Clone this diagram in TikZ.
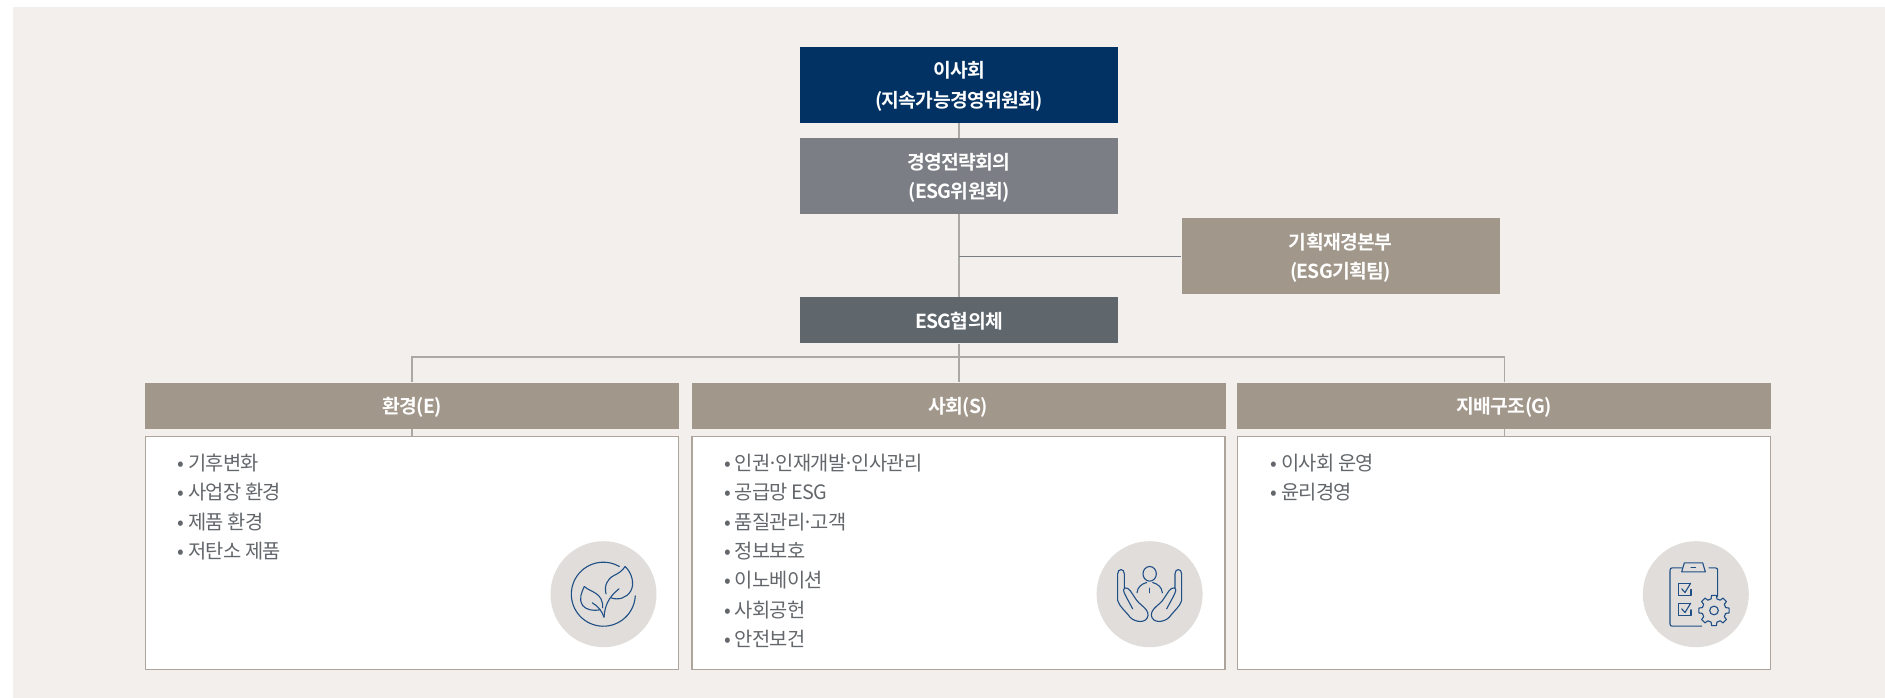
\documentclass[tikz,border=0pt]{standalone}
\usepackage{fontspec}
\setmainfont{Noto Sans CJK KR}[LetterSpace=-3.5,BoldFont={* Bold}]
\newcommand{\mdot}{\kern-.15em·\kern-.15em}
\definecolor{pagebg}{HTML}{F2EFEC}
\definecolor{navybox}{HTML}{013263}
\definecolor{midgray}{HTML}{7B7F85}
\definecolor{taupe}{HTML}{A2978B}
\definecolor{darkgray}{HTML}{5F666C}
\definecolor{bodyline}{HTML}{ADA59B}
\definecolor{circlefill}{HTML}{E0DDDA}
\definecolor{iconblue}{HTML}{1F4F85}
\definecolor{linkgray}{HTML}{ABA9A6}
\definecolor{listgray}{HTML}{63676B}
\tikzset{
  x=1pt,y=-1pt,
  orgbox/.style={rectangle,inner sep=0pt,minimum width=318pt,minimum height=76pt,text=white,
    font=\fontsize{19.3}{29.5}\selectfont\bfseries,align=center,text height=45pt,text depth=0pt},
  singlebox/.style={text height=15.6pt,text depth=0pt},
  headbox/.style={rectangle,inner sep=0pt,minimum width=534pt,minimum height=46pt,fill=taupe,text=white,
    font=\fontsize{19.3}{29.5}\selectfont\bfseries,singlebox},
  bodybox/.style={rectangle,inner sep=0pt,minimum width=533pt,minimum height=233.5pt,fill=white,draw=bodyline,line width=1.1pt},
  listtext/.style={inner sep=0pt,anchor=north west,align=left,text=listgray,
    font=\fontsize{19.8}{29.3}\selectfont},
  badge/.style={circle,inner sep=0pt,minimum size=106pt,fill=circlefill},
  link/.style={draw=linkgray,line width=1.2pt},
  iconline/.style={draw=iconblue,line width=1.1pt,line join=round,line cap=round},
  iconzoom/.style={x=0.33333pt,y=-0.33333pt},
}
\begin{document}
\begin{tikzpicture}
\useasboundingbox (0,0) rectangle (1885,698);
\fill[white] (0,0) rectangle (1885,698);
\fill[pagebg] (13,7) rectangle (1885,698);

\node[orgbox,fill=navybox] (board) at (959,85) {이사회\\(지속가능경영위원회)};
\node[orgbox,fill=midgray] (strategy) at (959,176) {경영전략회의\\(ESG위원회)};
\node[orgbox,fill=taupe] (finance) at (1340.5,256) {기획재경본부\\(ESG기획팀)};
\node[orgbox,fill=darkgray,minimum height=46pt,singlebox] (council) at (959,320.3) {ESG협의체};

\node[headbox] (headE) at (412,405.5) {환경(E)};
\node[headbox] (headS) at (958.5,405.5) {사회(S)};
\node[headbox] (headG) at (1504.4,405.5) {지배구조(G)};

\coordinate (bus) at (959,357);
\draw[link] (headE.north) -- (headE.north |- bus) -- (headG.north |- bus) -- (headG.north);
\draw[link] (board.south) -- (strategy.north);
\draw[link] (strategy.south) -- (council.north);
\draw[link] (council.south) -- (council.south |- headS.north);
\draw[draw=midgray,line width=1pt] (strategy.south |- finance.west) -- (finance.west);

\draw[link] (headE.south) -- ++(0,8);
\draw[link] (headG.south) -- ++(0,8);

\node[bodybox] (bodyE) at (412,553) {};
\node[bodybox] (bodyS) at (958.5,553) {};
\node[bodybox] (bodyG) at (1504.4,553) {};

\node[listtext] (listE) at (177.5,454) {• 기후변화\\• 사업장 환경\\• 제품 환경\\• 저탄소 제품};
\node[listtext] (listS) at (724,454) {• 인권\mdot 인재개발\mdot 인사관리\\• 공급망 ESG\\• 품질관리\mdot 고객\\• 정보보호\\• 이노베이션\\• 사회공헌\\• 안전보건};
\node[listtext] (listG) at (1270.5,454) {• 이사회 운영\\• 윤리경영};

\node[badge] (badgeE) at (603.5,594.2) {};
\node[badge] (badgeS) at (1149.6,594.2) {};
\node[badge] (badgeG) at (1695.8,594.2) {};

% leaf icon
\begin{scope}[shift={(530,520.5)},iconzoom]
  \draw[iconline] (268,138) arc[start angle=-60,end angle=-357,radius=96];
  \draw[iconline] (228,220) .. controls (222,195) and (232,175) .. (252,165) .. controls (268,157) and (278,150) .. (285,138)
     .. controls (305,155) and (315,190) .. (302,212) .. controls (290,232) and (265,240) .. (243,232);
  \draw[iconline] (222,290) .. controls (224,262) and (232,232) .. (267,205);
  \draw[iconline] (163,198) .. controls (155,215) and (145,235) .. (158,255) .. controls (168,268) and (190,272) .. (210,268);
  \draw[iconline] (163,198) .. controls (180,215) and (220,215) .. (218,262);
  \draw[iconline] (222,290) .. controls (215,270) and (205,258) .. (187,247);
\end{scope}

% hands icon
\begin{scope}[shift={(1080,520.5)},iconzoom]
  \draw[iconline] (209,160) ellipse[x radius=20,y radius=22];
  \draw[iconline] (171,217) .. controls (172,200) and (185,190) .. (200,186);
  \draw[iconline] (247,217) .. controls (246,200) and (233,190) .. (218,186);
  \draw[iconline] (209,203) -- (209,217);
  \draw[iconline] (133,205) -- (133,160) .. controls (133,143) and (113,143) .. (113,160) -- (113,240)
     .. controls (118,258) and (135,270) .. (150,290) .. controls (165,306) and (200,310) .. (204,285)
     .. controls (205,262) and (178,255) .. (165,232) .. controls (155,218) and (148,200) .. (134,202)
     .. controls (125,208) and (135,222) .. (158,265);
  \draw[iconline] (285,205) -- (285,160) .. controls (285,143) and (305,143) .. (305,160) -- (305,240)
     .. controls (300,258) and (283,270) .. (268,290) .. controls (253,306) and (218,310) .. (214,285)
     .. controls (213,262) and (240,255) .. (253,232) .. controls (263,218) and (270,200) .. (284,202)
     .. controls (293,208) and (283,222) .. (260,265);
\end{scope}

% clipboard and gear icon
\begin{scope}[shift={(1630,520.5)},iconzoom]
  \draw[iconline] (155,142) -- (127,142) .. controls (122,142) and (120,145) .. (120,150) -- (120,310)
     .. controls (120,315) and (122,317) .. (127,317) -- (215,317);
  \draw[iconline] (237,142) -- (256,142) .. controls (261,142) and (263,145) .. (263,150) -- (263,228);
  \draw[iconline] (163,127) -- (218,127) -- (226,154) -- (155,154) -- cycle;
  \draw[iconline] (183,142) -- (197,142);
  \draw[iconline] (180,190) -- (145,190) -- (145,224) -- (183,224) -- (183,207);
  \draw[iconline] (155,205) -- (165,216) -- (182,188);
  \draw[iconline] (180,250) -- (145,250) -- (145,286) -- (183,286) -- (183,268);
  \draw[iconline] (155,265) -- (165,276) -- (182,248);
  \begin{scope}[shift={(252,270)}]
    \draw[iconline] (-14:36) \foreach \a in {0,45,...,315} { -- (\a-14:36) -- (\a-9:46) -- (\a+9:46) -- (\a+14:36) } -- cycle;
    \draw[iconline] (0,0) circle[radius=13];
  \end{scope}
\end{scope}
\end{tikzpicture}
\end{document}
